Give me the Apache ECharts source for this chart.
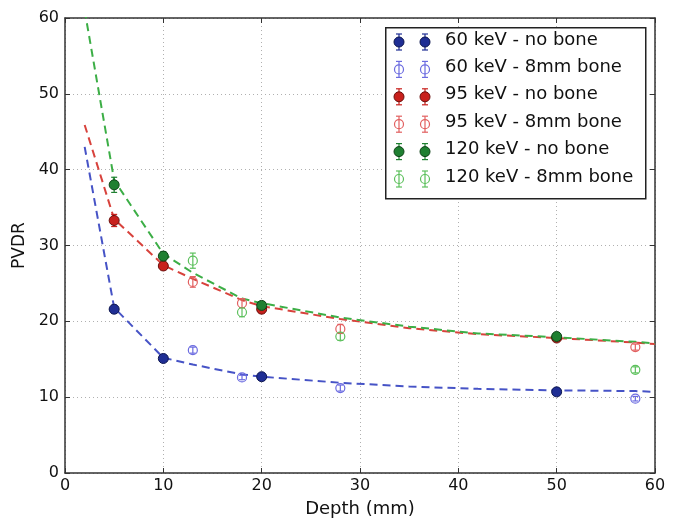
<!DOCTYPE html>
<html>
<head>
<meta charset="utf-8">
<script src="https://cdn.jsdelivr.net/npm/echarts@6/dist/echarts.min.js"></script>
<style>html,body{margin:0;padding:0;background:#fff}#c{width:680px;height:521px}</style>
</head>
<body>
<div id="c"></div>
<script>
// ---- data ----
const xNoBone = [5, 10, 20, 50];
const xBone = [13, 18, 28, 58];
const y60no = [21.6, 15.1, 12.7, 10.7];
const e60no = [0.5, 0.3, 0.3, 0.3];
const y60bone = [16.2, 12.6, 11.2, 9.8];
const e60bone = [0.4, 0.3, 0.4, 0.3];
const y95no = [33.3, 27.3, 21.6, 17.8];
const e95no = [0.8, 0.5, 0.5, 0.4];
const y95bone = [25.2, 22.4, 19.0, 16.6];
const e95bone = [0.7, 0.6, 0.6, 0.4];
const y120no = [38.0, 28.6, 22.1, 18.0];
const e120no = [1.0, 0.6, 0.5, 0.4];
const y120bone = [28.0, 21.2, 18.0, 13.6];
const e120bone = [1.0, 0.6, 0.5, 0.4];

const fitX = [2, 5, 10, 13, 18, 20, 28, 35, 42, 50, 58, 60];
const fit60 = [43, 21.8, 15.2, 14.3, 13.0, 12.7, 11.9, 11.4, 11.1, 10.9, 10.8, 10.7];
const fit95 = [45.9, 33.5, 27.4, 25.6, 22.8, 22.0, 20.3, 19.1, 18.3, 17.8, 17.2, 17.0];
const fit120 = [61, 38.6, 28.9, 26.4, 23.0, 22.4, 20.5, 19.3, 18.4, 17.9, 17.3, 17.1];

const xTicks = [0, 10, 20, 30, 40, 50, 60];
const yTicks = [0, 10, 20, 30, 40, 50, 60];

const seriesNames = ['60 keV - no bone', '60 keV - 8mm bone', '95 keV - no bone', '95 keV - 8mm bone', '120 keV - no bone', '120 keV - 8mm bone'];

// ---- styles ----
const FONT = 'DejaVu Sans';
const C = {
  blueFill: '#1f2e94', blueEdge: '#0d1650', blueOpen: '#6b6be0', blueLine: '#4653c6',
  redFill: '#c8201c', redEdge: '#6a0f0c', redOpen: '#e26060', redLine: '#d8423c',
  greenFill: '#1f8031', greenEdge: '#0f4418', greenOpen: '#5cc05c', greenLine: '#3cae46'
};

function zip(xs, ys) { return xs.map((x, i) => [x, ys[i]]); }
function zip3(xs, ys, es) { return xs.map((x, i) => [x, ys[i], es[i]]); }

function errSeries(xs, ys, es, color) {
  return {
    type: 'custom', silent: true, z: 3,
    data: zip3(xs, ys, es),
    encode: { x: 0, y: 1 },
    renderItem: function (params, api) {
      const x = api.value(0), y = api.value(1), e = api.value(2);
      const t = api.coord([x, y + e]), b = api.coord([x, y - e]);
      const cw = 3;
      const st = { stroke: color, lineWidth: 1.2 };
      return {
        type: 'group', children: [
          { type: 'line', shape: { x1: t[0], y1: t[1], x2: b[0], y2: b[1] }, style: st },
          { type: 'line', shape: { x1: t[0] - cw, y1: t[1], x2: t[0] + cw, y2: t[1] }, style: st },
          { type: 'line', shape: { x1: b[0] - cw, y1: b[1], x2: b[0] + cw, y2: b[1] }, style: st }
        ]
      };
    }
  };
}
function filledScatter(xs, ys, fill, edge) {
  return { type: 'scatter', z: 4, symbol: 'circle', symbolSize: 10, data: zip(xs, ys),
    itemStyle: { color: fill, borderColor: edge, borderWidth: 1, opacity: 1 } };
}
function openScatter(xs, ys, color) {
  return { type: 'scatter', z: 4, symbol: 'circle', symbolSize: 9, data: zip(xs, ys),
    itemStyle: { color: 'rgba(255,255,255,0)', borderColor: color, borderWidth: 1.2, opacity: 1 } };
}
function fitLine(ys, color) {
  return { type: 'line', z: 2, data: zip(fitX, ys), symbol: 'none', clip: true,
    lineStyle: { color: color, width: 2, type: [8, 5] } };
}

// ---- legend (graphic) ----
const LX = 385, LY = 27, LW = 260, LH = 171;
const legendRows = [
  { name: seriesNames[0], fill: C.blueFill, edge: C.blueEdge, bar: C.blueFill, open: false },
  { name: seriesNames[1], fill: null, edge: C.blueOpen, bar: C.blueOpen, open: true },
  { name: seriesNames[2], fill: C.redFill, edge: C.redEdge, bar: C.redFill, open: false },
  { name: seriesNames[3], fill: null, edge: C.redOpen, bar: C.redOpen, open: true },
  { name: seriesNames[4], fill: C.greenFill, edge: C.greenEdge, bar: C.greenFill, open: false },
  { name: seriesNames[5], fill: null, edge: C.greenOpen, bar: C.greenOpen, open: true }
];
const legendGraphics = [{
  type: 'rect', left: LX, top: LY, z: 10,
  shape: { width: LW, height: LH },
  style: { fill: '#fff', stroke: '#222', lineWidth: 1.5 }
}];
legendRows.forEach((r, i) => {
  const cy = LY + 15 + i * 27.4;
  [399, 425].forEach(cx => {
    const st = { stroke: r.bar, lineWidth: 1.2 };
    legendGraphics.push({ type: 'line', z: 11, shape: { x1: cx, y1: cy - 8, x2: cx, y2: cy + 8 }, style: st });
    legendGraphics.push({ type: 'line', z: 11, shape: { x1: cx - 3, y1: cy - 8, x2: cx + 3, y2: cy - 8 }, style: st });
    legendGraphics.push({ type: 'line', z: 11, shape: { x1: cx - 3, y1: cy + 8, x2: cx + 3, y2: cy + 8 }, style: st });
    legendGraphics.push({ type: 'circle', z: 12, shape: { cx: cx, cy: cy, r: r.open ? 4.5 : 5 },
      style: r.open ? { fill: 'rgba(255,255,255,0)', stroke: r.edge, lineWidth: 1.2 } : { fill: r.fill, stroke: r.edge, lineWidth: 1 } });
  });
  legendGraphics.push({ type: 'text', z: 12, left: 445, top: cy - 11,
    style: { text: r.name, font: '18px "' + FONT + '"', fill: '#111', textVerticalAlign: 'top' } });
});

const axisCommon = {
  type: 'value', min: 0, max: 60, interval: 10,
  axisLine: { show: true, onZero: false, lineStyle: { color: '#333', width: 1.5 } },
  axisTick: { show: true, inside: true, length: 5, lineStyle: { color: '#333', width: 1 } }
};

const option = {
  backgroundColor: '#fff',
  animation: false,
  grid: { left: 65, top: 18, right: 25, bottom: 48, containLabel: false, outerBoundsMode: 'none' },
  xAxis: [
    Object.assign({}, axisCommon, {
      position: 'bottom',
      name: 'Depth (mm)', nameLocation: 'middle', nameGap: 27,
      nameTextStyle: { fontFamily: FONT, fontSize: 18, color: '#111' },
      axisLabel: { fontFamily: FONT, fontSize: 16, color: '#111', margin: 5,
        formatter: v => xTicks.indexOf(v) >= 0 ? String(v) : '' },
      splitLine: { show: true, lineStyle: { color: '#b0b0b0', type: [1, 3], width: 1 } }
    }),
    Object.assign({}, axisCommon, {
      position: 'top', axisLabel: { show: false }, splitLine: { show: false }
    })
  ],
  yAxis: [
    Object.assign({}, axisCommon, {
      position: 'left',
      name: 'PVDR', nameLocation: 'middle', nameGap: 36, nameRotate: 90,
      nameTextStyle: { fontFamily: FONT, fontSize: 17, color: '#111' },
      axisLabel: { fontFamily: FONT, fontSize: 16, color: '#111', margin: 6,
        formatter: v => yTicks.indexOf(v) >= 0 ? String(v) : '' },
      splitLine: { show: true, lineStyle: { color: '#b0b0b0', type: [1, 3], width: 1 } }
    }),
    Object.assign({}, axisCommon, {
      position: 'right', axisLabel: { show: false }, splitLine: { show: false }
    })
  ],
  series: [
    fitLine(fit60, C.blueLine),
    fitLine(fit95, C.redLine),
    fitLine(fit120, C.greenLine),
    errSeries(xNoBone, y60no, e60no, C.blueFill),
    errSeries(xBone, y60bone, e60bone, C.blueOpen),
    errSeries(xNoBone, y95no, e95no, C.redFill),
    errSeries(xBone, y95bone, e95bone, C.redOpen),
    errSeries(xNoBone, y120no, e120no, C.greenFill),
    errSeries(xBone, y120bone, e120bone, C.greenOpen),
    Object.assign(filledScatter(xNoBone, y60no, C.blueFill, C.blueEdge), { name: seriesNames[0] }),
    Object.assign(openScatter(xBone, y60bone, C.blueOpen), { name: seriesNames[1] }),
    Object.assign(filledScatter(xNoBone, y95no, C.redFill, C.redEdge), { name: seriesNames[2] }),
    Object.assign(openScatter(xBone, y95bone, C.redOpen), { name: seriesNames[3] }),
    Object.assign(filledScatter(xNoBone, y120no, C.greenFill, C.greenEdge), { name: seriesNames[4] }),
    Object.assign(openScatter(xBone, y120bone, C.greenOpen), { name: seriesNames[5] })
  ],
  graphic: legendGraphics
};

const chart = echarts.init(document.getElementById('c'), null, { renderer: 'canvas' });
chart.setOption(option);
</script>
</body>
</html>
